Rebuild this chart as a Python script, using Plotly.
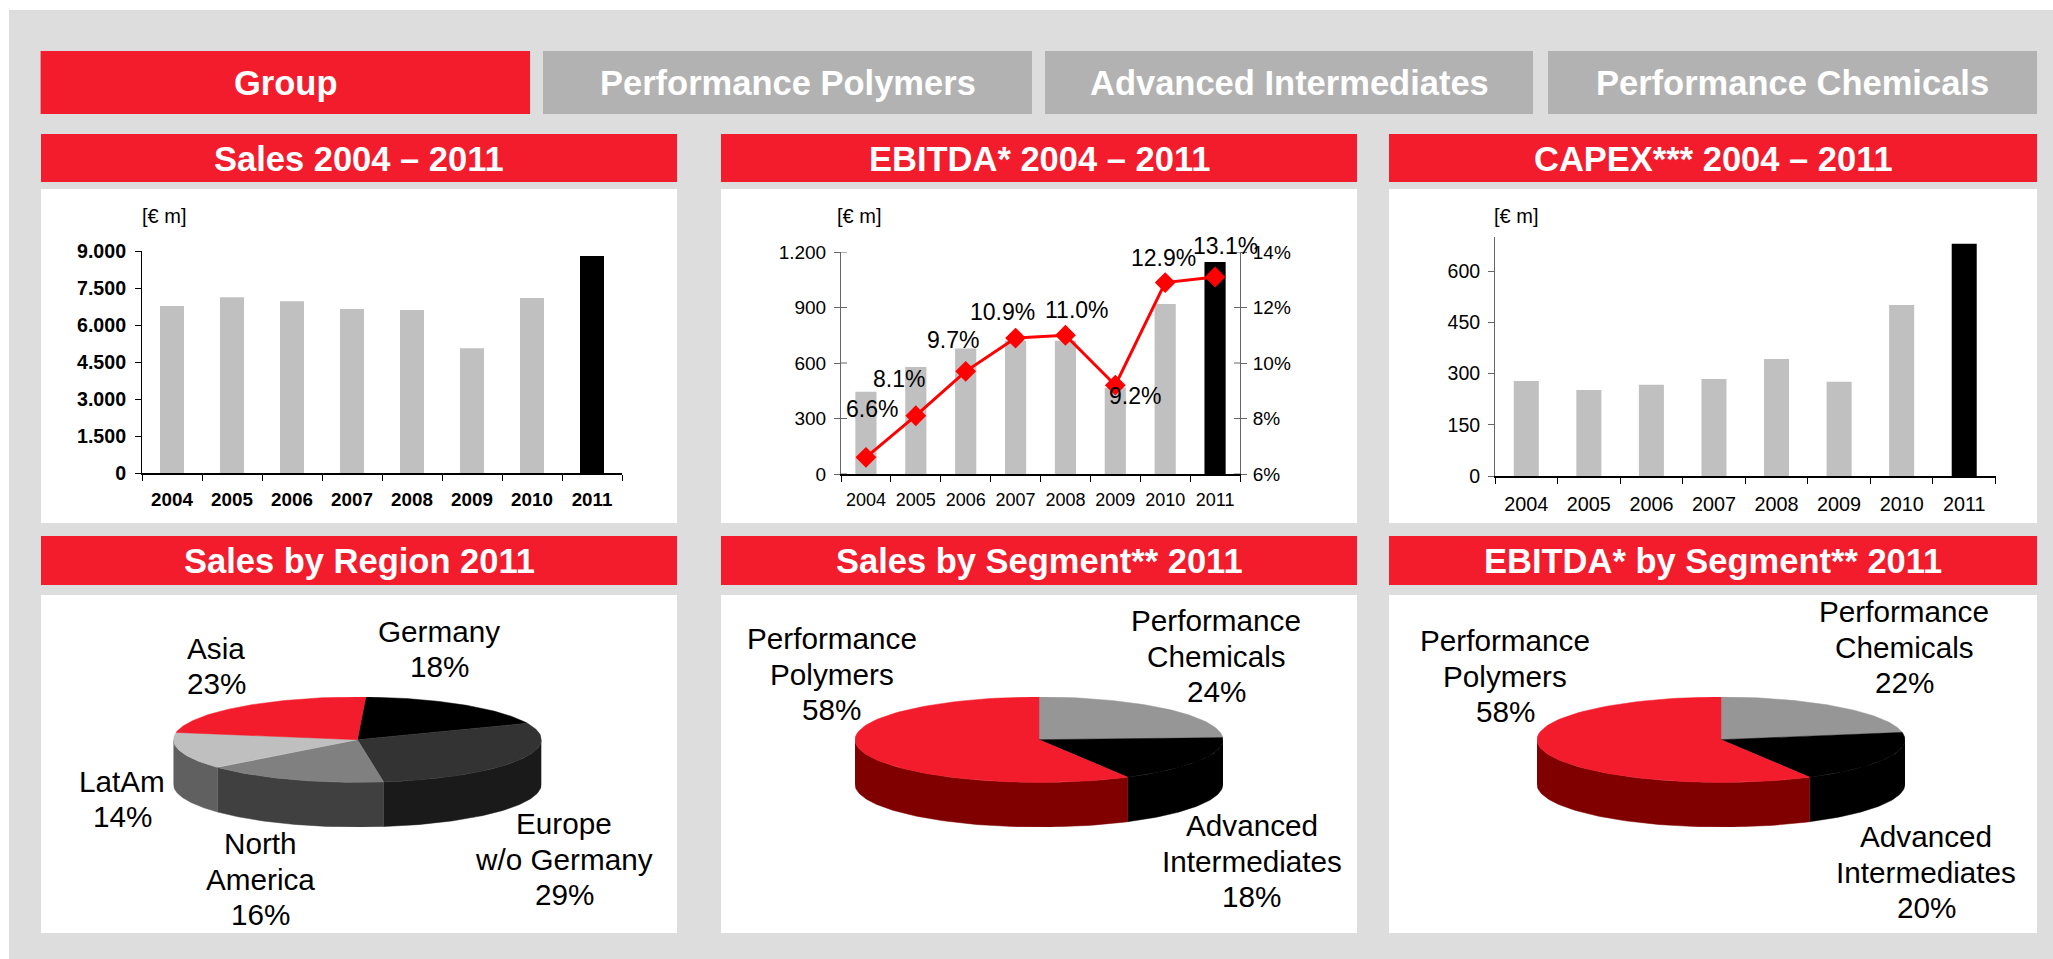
import math
import plotly.graph_objects as go

W, H = 2053, 959
FONT = "Liberation Sans, Arial, sans-serif"
RED = "#F21C2D"
GREY_TAB = "#B2B2B2"
BG = "#DDDDDD"
BAR = "#C0C0C0"

# ---------- data ----------
years = ["2004", "2005", "2006", "2007", "2008", "2009", "2010", "2011"]
sales = [6770, 7130, 6960, 6650, 6610, 5060, 7090, 8800]
ebitda = [444, 579, 678, 720, 720, 466, 919, 1146]
ebitda_margin = [6.6, 8.1, 9.7, 10.9, 11.0, 9.2, 12.9, 13.1]
capex = [278, 252, 267, 284, 343, 276, 501, 680]

sales_ticks = [0, 1500, 3000, 4500, 6000, 7500, 9000]
sales_ticktext = ["0", "1.500", "3.000", "4.500", "6.000", "7.500", "9.000"]
ebitda_ticks = [0, 300, 600, 900, 1200]
ebitda_ticktext = ["0", "300", "600", "900", "1.200"]
margin_ticks = [6, 8, 10, 12, 14]
margin_ticktext = ["6%", "8%", "10%", "12%", "14%"]
capex_ticks = [0, 150, 300, 450, 600]

tabs = ["Group", "Performance Polymers", "Advanced Intermediates", "Performance Chemicals"]
headers_top = ["Sales 2004 – 2011", "EBITDA* 2004 – 2011", "CAPEX*** 2004 – 2011"]
headers_bottom = ["Sales by Region 2011", "Sales by Segment** 2011", "EBITDA* by Segment** 2011"]

region_labels = [["Germany"], ["Europe", "w/o Germany"], ["North", "America"], ["LatAm"], ["Asia"]]
region_shares = [18, 29, 16, 14, 23]
segment_labels = [["Performance", "Chemicals"], ["Advanced", "Intermediates"], ["Performance", "Polymers"]]
sales_segment_shares = [24, 18, 58]
ebitda_segment_shares = [22, 20, 58]

# ---------- styling / layout ----------
region_top = ["#000000", "#333333", "#808080", "#BFBFBF", RED]
region_side = ["#000000", "#1A1A1A", "#404040", "#606060", "#800000"]
segment_top = ["#969696", "#000000", RED]
segment_side = ["#666666", "#000000", "#800000"]

margin_dx = [6, -17, -13, -13, 12, 20, -2, 10]
margin_dy = [-48, -37, -31, -26, -25, 11, -25, -31]

tab_x = [(40.6, 530), (543, 1032), (1045, 1533), (1548, 2037)]
col_x = [(41, 677), (721, 1357), (1389, 2037)]
LINE_STEP = 35.6


def px(x):
    return x / W


def py(y):
    return 1 - y / H


shapes, annotations = [], []


def rect(x0, y0, x1, y1, color):
    shapes.append(dict(type="rect", xref="paper", yref="paper", x0=px(x0), x1=px(x1),
                       y0=py(y0), y1=py(y1), fillcolor=color, line_width=0, layer="below"))


def label(x, y, text, size, color="#000000", bold=False):
    annotations.append(dict(xref="paper", yref="paper", x=px(x), y=py(y), text=f"<b>{text}</b>" if bold else text,
                            showarrow=False, xanchor="center", yanchor="middle", align="center",
                            font=dict(family=FONT, size=size, color=color)))


def pie_label(x, y, lines, share):
    rows = lines + [f"{share}%"]
    top = y - LINE_STEP * (len(rows) - 1) / 2
    for k, row in enumerate(rows):
        label(x, top + k * LINE_STEP, row, 29.7)


rect(9, 10, W, H, BG)
for i, (t, (a, b)) in enumerate(zip(tabs, tab_x)):
    rect(a, 51, b, 114, RED if i == 0 else GREY_TAB)
    label((a + b) / 2, 83, t, 34.5, "#FFFFFF", True)
for t, (a, b) in zip(headers_top, col_x):
    rect(a, 134, b, 182, RED)
    rect(a, 189, b, 523, "#FFFFFF")
    label((a + b) / 2, 159, t, 34.5, "#FFFFFF", True)
for t, (a, b) in zip(headers_bottom, col_x):
    rect(a, 536, b, 585, RED)
    rect(a, 595, b, 933, "#FFFFFF")
    label((a + b) / 2, 561, t, 34.5, "#FFFFFF", True)

for x in (163.5, 858.5, 1516):
    label(x, 216, "[€ m]", 20)

fig = go.Figure()
layout = {}


def bar_colors():
    return [BAR] * (len(years) - 1) + ["#000000"]


def bar_axes(xname, yname, x0, x1, y_top, y_bot, ymax, ticks, ticktext, xsize, ysize, bold, ylinecolor, ystand):
    xkey = "xaxis" + xname[1:]
    ykey = "yaxis" + yname[1:]
    layout[xkey] = dict(domain=[px(x0), px(x1)], anchor=yname, type="category", categoryorder="array",
                        categoryarray=years, range=[-0.5, 7.5], tickson="boundaries", ticks="outside", ticklen=6,
                        tickcolor="#000000", showline=True, linecolor="#000000", linewidth=1.5, showgrid=False,
                        zeroline=False, tickfont=dict(family=FONT, size=xsize, color="#000000"), tickangle=0,
                        ticklabelstandoff=9, automargin=False,
                        tickprefix="<b>" if bold else "", ticksuffix="</b>" if bold else "")
    layout[ykey] = dict(domain=[py(y_bot), py(y_top)], anchor=xname, range=[0, ymax], tickmode="array", tickvals=ticks,
                        ticktext=[f"<b>{t}</b>" if bold else t for t in ticktext], ticks="outside", ticklen=6,
                        tickcolor=ylinecolor, showline=True, linecolor=ylinecolor, linewidth=1, showgrid=False,
                        zeroline=False, tickfont=dict(family=FONT, size=ysize, color="#000000"),
                        ticklabelstandoff=ystand, automargin=False)


# Sales
bar_axes("x", "y", 142, 622, 251, 473, 9000, sales_ticks, sales_ticktext, 18.8, 19.6, True, "#000000", 5)
fig.add_trace(go.Bar(x=years, y=sales, marker=dict(color=bar_colors(), line_width=0), width=0.4,
                     xaxis="x", yaxis="y"))
# EBITDA
bar_axes("x2", "y2", 841, 1240, 252, 474, 1200, ebitda_ticks, ebitda_ticktext, 18, 19, False, "#666666", 4)
fig.add_trace(go.Bar(x=years, y=ebitda, marker=dict(color=bar_colors(), line_width=0), width=0.425,
                     xaxis="x2", yaxis="y2"))
layout["yaxis3"] = dict(domain=layout["yaxis2"]["domain"], anchor="x2", overlaying="y2", side="right", range=[6, 14],
                        tickmode="array", tickvals=margin_ticks, ticktext=margin_ticktext, ticks="outside", ticklen=6,
                        tickcolor="#666666", showline=True, linecolor="#666666", showgrid=False, zeroline=False,
                        tickfont=dict(family=FONT, size=19, color="#000000"), ticklabelstandoff=2, automargin=False)
fig.add_trace(go.Scatter(x=years, y=ebitda_margin, mode="lines+markers", xaxis="x2", yaxis="y3", cliponaxis=False,
                         line=dict(color="#FF0000", width=3),
                         marker=dict(symbol="diamond", size=16, color="#FF0000")))
for i, (m, dx, dy) in enumerate(zip(ebitda_margin, margin_dx, margin_dy)):
    annotations.append(dict(xref="x2", yref="y3", x=i, y=m, text=f"{m:.1f}%", showarrow=False, xshift=dx, yshift=-dy,
                            font=dict(family=FONT, size=23, color="#000000"), xanchor="center", yanchor="middle"))
span = 1240 - 841
for v in ebitda_ticks:
    shapes.append(dict(type="line", xref="x2 domain", yref="y2", x0=0, x1=6 / span, y0=v, y1=v,
                       line=dict(color="#666666", width=1)))
for v in margin_ticks:
    shapes.append(dict(type="line", xref="x2 domain", yref="y3", x0=1 - 6 / span, x1=1, y0=v, y1=v,
                       line=dict(color="#666666", width=1)))
# CAPEX
bar_axes("x3", "y4", 1495, 1995.5, 237, 476, 700, capex_ticks, [str(v) for v in capex_ticks], 19.8, 19.5, False,
         "#666666", 4)
fig.add_trace(go.Bar(x=years, y=capex, marker=dict(color=bar_colors(), line_width=0), width=0.4,
                     xaxis="x3", yaxis="y4"))

# ---------- 3D-look pies: every sector is computed from the shares ----------
DEPTH = 1.044


def arc(t0, t1, n=90):
    return [math.radians(t0 + (t1 - t0) * i / n) for i in range(n + 1)]


def pie(shares, tops, sides, start, xname, yname, cx):
    edges = [start]
    for s in shares:
        edges.append(edges[-1] + s * 3.6)
    # side walls: only the front half of the rim (90..270 deg) is visible
    for i in range(len(shares)):
        a = max(edges[i], 90)
        b = min(edges[i + 1], 270)
        if b <= a:
            continue
        ts = arc(a, b)
        xs = [math.sin(t) for t in ts] + [math.sin(t) for t in reversed(ts)]
        ys = [math.cos(t) for t in ts] + [math.cos(t) - DEPTH for t in reversed(ts)]
        fig.add_trace(go.Scatter(x=xs + xs[:1], y=ys + ys[:1], mode="lines", fill="toself", fillcolor=sides[i],
                                 line=dict(width=0.5, color=sides[i]), xaxis=xname, yaxis=yname))
    for i in range(len(shares)):
        ts = arc(edges[i], edges[i + 1])
        xs = [0] + [math.sin(t) for t in ts] + [0]
        ys = [0] + [math.cos(t) for t in ts] + [0]
        fig.add_trace(go.Scatter(x=xs, y=ys, mode="lines", fill="toself", fillcolor=tops[i],
                                 line=dict(width=0.5, color=tops[i]), xaxis=xname, yaxis=yname))
    hidden = dict(visible=False, showgrid=False, zeroline=False, fixedrange=True, automargin=False)
    layout["xaxis" + xname[1:]] = dict(domain=[px(cx - 184), px(cx + 184)], anchor=yname, range=[-1, 1], **hidden)
    layout["yaxis" + yname[1:]] = dict(domain=[py(827), py(697)], anchor=xname, range=[-1 - DEPTH, 1], **hidden)


pie(region_shares, region_top, region_side, 2.6, "x4", "y5", 357.4)
pie(sales_segment_shares, segment_top, segment_side, 0, "x5", "y6", 1039)
pie(ebitda_segment_shares, segment_top, segment_side, 0, "x6", "y7", 1721)

region_pos = [(439, 649), (564, 859), (260, 879), (122, 799), (216, 666)]
for lab, s, (x, y) in zip(region_labels, region_shares, region_pos):
    pie_label(x, y, lab, s)
sales_pos = [(1216, 656), (1251.5, 861), (831.5, 674)]
for lab, s, (x, y) in zip(segment_labels, sales_segment_shares, sales_pos):
    pie_label(x, y, lab, s)
ebitda_pos = [(1904, 647), (1926, 872), (1505, 676)]
for lab, s, (x, y) in zip(segment_labels, ebitda_segment_shares, ebitda_pos):
    pie_label(x, y, lab, s)

fig.update_layout(width=W, height=H, margin=dict(l=0, r=0, t=0, b=0, autoexpand=False), paper_bgcolor="#FFFFFF",
                  plot_bgcolor="rgba(0,0,0,0)", showlegend=False, barmode="overlay", shapes=shapes,
                  annotations=annotations, **layout)

fig.write_html("out.html", config=dict(displayModeBar=False),
               post_script="document.body.style.margin='0';document.body.style.overflow='hidden';")
